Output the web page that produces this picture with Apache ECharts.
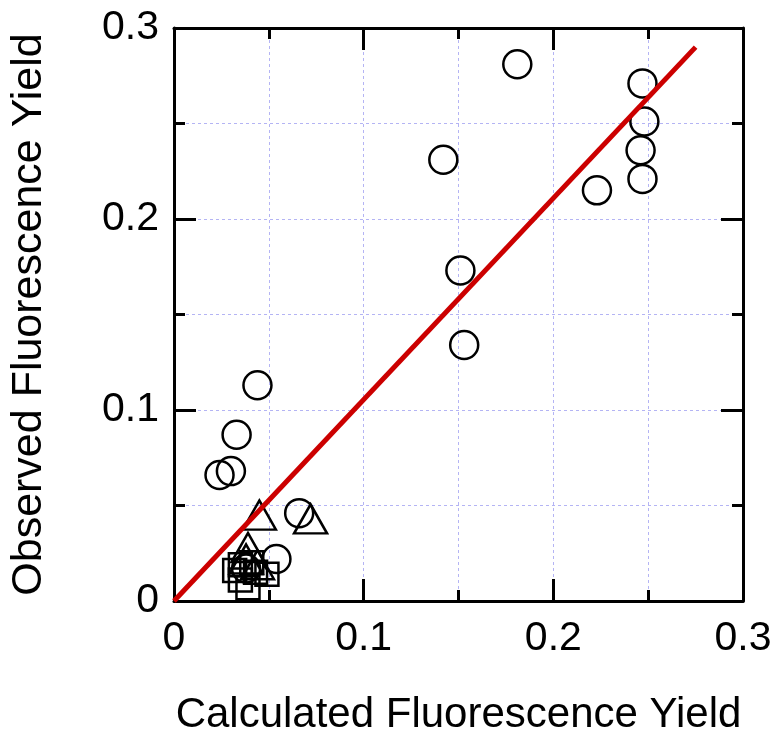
<!DOCTYPE html>
<html>
<head>
<meta charset="utf-8">
<script src="https://cdn.jsdelivr.net/npm/echarts@6/dist/echarts.min.js"></script>
<style>
  html, body { margin: 0; padding: 0; background: #fff; }
  #chart { width: 775px; height: 741px; }
</style>
</head>
<body>
<div id="chart"></div>
<script>
// circles
const circleX = [0.181, 0.247, 0.248, 0.246, 0.247, 0.223, 0.142, 0.151, 0.153, 0.044, 0.033, 0.030, 0.024, 0.066, 0.054, 0.038];
const circleY = [0.281, 0.271, 0.251, 0.236, 0.221, 0.215, 0.231, 0.173, 0.134, 0.113, 0.087, 0.068, 0.066, 0.046, 0.022, 0.017];
// triangles
const triX = [0.045, 0.072, 0.039, 0.038, 0.044];
const triY = [0.045, 0.043, 0.028, 0.022, 0.019];
// squares
const sqX = [0.035, 0.039, 0.043, 0.049, 0.035, 0.041, 0.032];
const sqY = [0.011, 0.007, 0.015, 0.014, 0.019, 0.020, 0.016];
// fitted line end points
const fitX = [0, 0.275];
const fitY = [0, 0.29];
const tickLabels = ['0', '0.1', '0.2', '0.3'];

const font = "'Liberation Sans', Arial, Helvetica, sans-serif";
const zip = (xs, ys) => xs.map((x, i) => [x, ys[i]]);

const chart = echarts.init(document.getElementById('chart'));

const gridLine = {show: true, lineStyle: {color: '#b4b4f4', width: 1, type: [3, 3]}};
const tickStyle = {show: true, inside: true, length: 22, lineStyle: {color: '#000', width: 3}};
const minorStyle = {show: true, splitNumber: 2, length: 11, lineStyle: {color: '#000', width: 3}};
const fmt = v => tickLabels[Math.round(v * 10)] || '';

const baseAxis = {
    type: 'value', min: 0, max: 0.3, interval: 0.1,
    axisLine: {show: true, onZero: false, lineStyle: {color: '#000', width: 3}},
    axisTick: tickStyle,
    minorTick: minorStyle
};

const hollow = {color: 'rgba(0,0,0,0)', borderColor: '#000', borderWidth: 2.5, opacity: 1};

chart.setOption({
    animation: false,
    grid: {left: 173, right: 32, top: 28, bottom: 137},
    xAxis: [
        Object.assign({}, baseAxis, {
            position: 'bottom',
            name: 'Calculated Fluorescence Yield',
            nameLocation: 'middle', nameGap: 93,
            nameTextStyle: {fontSize: 42, color: '#000', fontFamily: font},
            axisLabel: {margin: 17, fontSize: 41, color: '#000', fontFamily: font, formatter: fmt},
            splitLine: gridLine,
            minorSplitLine: gridLine
        }),
        Object.assign({}, baseAxis, {position: 'top', axisLabel: {show: false}, splitLine: {show: false}})
    ],
    yAxis: [
        Object.assign({}, baseAxis, {
            position: 'left',
            name: 'Observed Fluorescence Yield',
            nameLocation: 'middle', nameGap: 123,
            nameTextStyle: {fontSize: 43, color: '#000', fontFamily: font},
            axisLabel: {margin: 15, fontSize: 41, color: '#000', fontFamily: font, formatter: fmt},
            splitLine: gridLine,
            minorSplitLine: gridLine
        }),
        Object.assign({}, baseAxis, {position: 'right', axisLabel: {show: false}, splitLine: {show: false}})
    ],
    series: [
        {type: 'scatter', symbol: 'rect', symbolSize: 23, itemStyle: hollow, data: zip(sqX, sqY)},
        {type: 'scatter', symbol: 'triangle', symbolSize: [33, 29], itemStyle: hollow, data: zip(triX, triY)},
        {type: 'scatter', symbol: 'circle', symbolSize: 28, itemStyle: hollow, data: zip(circleX, circleY)},
        {type: 'line', data: zip(fitX, fitY), showSymbol: false, symbol: 'none',
         lineStyle: {color: '#cc0000', width: 5}, z: 5}
    ]
});
</script>
</body>
</html>
